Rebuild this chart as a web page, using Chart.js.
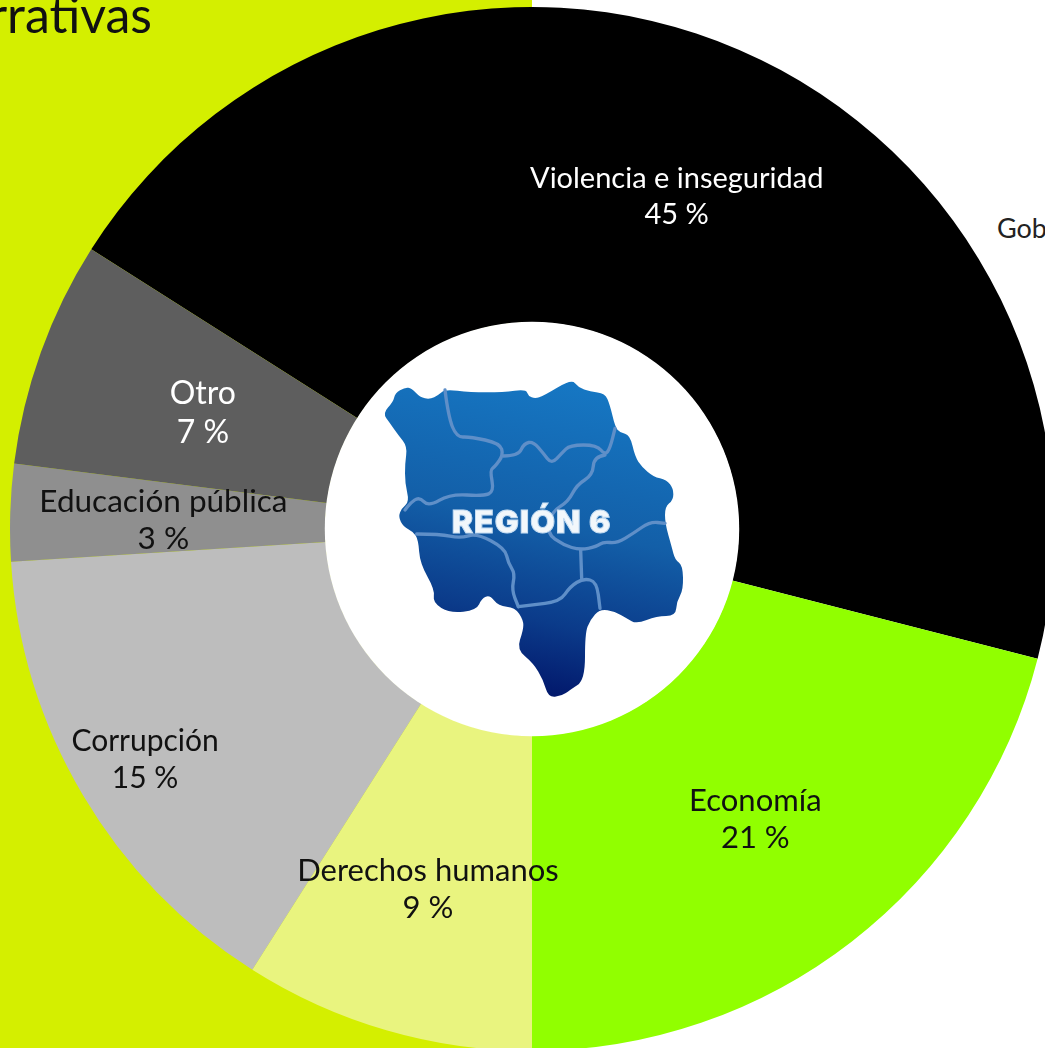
<!DOCTYPE html>
<html lang="es">
<head>
<meta charset="utf-8">
<title>Narrativas</title>
<script src="https://cdn.jsdelivr.net/npm/chart.js@4"></script>
<style>
  html, body { margin: 0; padding: 0; }
  body {
    position: relative;
    width: 1045px;
    height: 1048px;
    overflow: hidden;
    background: linear-gradient(to right, #d4ef00 532px, #fff 532px);
    font-family: Lato, sans-serif;
  }
  #wrap { position: absolute; left: 10px; top: 7px; width: 1044px; height: 1044px; }
  #title { position: absolute; right: 893px; top: -14px; font-size: 50px; line-height: 56px; color: #111; white-space: nowrap; }
  #gob { position: absolute; left: 997px; top: 212px; font-size: 27px; line-height: 32px; color: #222; white-space: nowrap; }
  #map { position: absolute; left: 370px; top: 360px; width: 330px; height: 350px; }
</style>
</head>
<body>
<div id="title">Narrativas</div>
<div id="gob">Gob</div>
<div id="wrap"><canvas id="donut" width="1044" height="1044"></canvas></div>
<svg id="map" viewBox="0 0 990 1050" xmlns="http://www.w3.org/2000/svg">
  <defs>
    <linearGradient id="mapFill" x1="0.62" y1="0" x2="0.42" y2="1">
      <stop offset="0" stop-color="#1677c3"/>
      <stop offset="0.45" stop-color="#135fa8"/>
      <stop offset="0.75" stop-color="#0b3b8a"/>
      <stop offset="1" stop-color="#011468"/>
    </linearGradient>
    <filter id="soft"><feGaussianBlur stdDeviation="1.5"/></filter>
  </defs>
  <path id="mapShape" fill="url(#mapFill)"/>
  <g id="mapLines" fill="none" stroke="#5f8fc8" stroke-width="10" stroke-linecap="round" filter="url(#soft)"></g>
  <text x="485" y="520" text-anchor="middle" font-family="Inter, sans-serif" font-weight="900" font-size="96" letter-spacing="3" fill="#f2f7fb" stroke="#c4dcf2" stroke-width="3" filter="url(#soft)">REGIÓN 6</text>
</svg>
<script>
const categories = ['Violencia e inseguridad', 'Economía', 'Derechos humanos', 'Corrupción', 'Educación pública', 'Otro'];
const shares = [45, 21, 9, 15, 3, 7];
const sliceColors = ['#000000', '#91ff00', '#e9f47f', '#bdbdbd', '#8f8f8f', '#5e5e5e'];
const labelColors = ['#ffffff', '#111111', '#111111', '#111111', '#111111', '#ffffff'];
const labelSizes = [29, 31, 31, 30, 31.5, 32];
const labelLines = [36, 37, 37, 37, 37, 39];
const labelDepth = [0.5, 0.5, 0.527, 0.77, 0.514, 0.454]; // where the text sits between hole and rim

// logo outline
const mapOutline = [[38,160],[70,125],[75,100],[105,82],[125,85],[150,112],[180,118],[205,105],[225,88],[300,97],[400,97],[468,88],[475,108],[495,116],[520,108],[605,57],[625,82],[660,95],[705,100],[720,135],[735,200],[750,218],[780,225],[795,290],[815,320],[850,350],[890,360],[910,385],[910,420],[885,440],[885,490],[905,560],[915,600],[938,615],[940,690],[920,725],[917,768],[860,768],[800,792],[770,775],[735,755],[690,747],[660,780],[645,820],[645,960],[600,990],[575,1008],[535,1012],[520,960],[490,910],[440,868],[460,810],[460,780],[435,742],[385,738],[360,705],[335,715],[320,750],[240,760],[188,728],[195,690],[150,610],[145,540],[130,515],[100,500],[85,470],[95,445],[118,425],[105,370],[105,310],[112,260],[85,225],[60,190]];
const mapBorders = [
  [[225,90],[235,170],[260,232],[300,230],[390,250],[400,285],[375,320],[360,330],[372,395],[340,408],[240,402],[175,440],[148,410],[120,430],[105,450]],
  [[400,288],[445,288],[462,250],[490,245],[520,280],[545,312],[575,280],[600,255],[680,255],[705,285],[720,265],[735,205]],
  [[705,285],[672,290],[668,345],[620,375],[595,425],[545,455],[530,520],[580,555],[630,570],[680,560],[700,545],[740,550],[790,520],[840,485],[885,490]],
  [[632,570],[635,655]],
  [[140,522],[210,522],[270,535],[320,520],[405,565],[415,610],[435,640],[425,690],[445,740]],
  [[445,740],[480,735],[570,725],[600,680],[640,655],[680,665],[690,745]]
];

function smoothPath(pts, closed) {
  // quadratic curves through the midpoints, good enough for the logo
  const mid = (a, b) => [(a[0]+b[0])/2, (a[1]+b[1])/2];
  if (pts.length < 3) return 'M' + pts[0].join(' ') + 'L' + pts[1].join(' ');
  let d;
  if (closed) {
    d = 'M' + mid(pts[pts.length-1], pts[0]).join(' ');
    for (let i=0; i<pts.length; i++) {
      d += 'Q' + pts[i].join(' ') + ' ' + mid(pts[i], pts[(i+1)%pts.length]).join(' ');
    }
    return d + 'Z';
  }
  d = 'M' + pts[0].join(' ');
  for (let i=1; i<pts.length-1; i++) {
    d += 'Q' + pts[i].join(' ') + ' ' + mid(pts[i], pts[i+1]).join(' ');
  }
  return d + 'L' + pts[pts.length-1].join(' ');
}

document.querySelector('#mapShape').setAttribute('d', smoothPath(mapOutline, true));
const linesGroup = document.querySelector('#mapLines');
for (const border of mapBorders) {
  const p = document.createElementNS('http://www.w3.org/2000/svg', 'path');
  p.setAttribute('d', smoothPath(border, false));
  linesGroup.appendChild(p);
}

const holeAndLabels = {
  id: 'holeAndLabels',
  afterDatasetsDraw(chart) {
    const ctx = chart.ctx;
    const arcs = chart.getDatasetMeta(0).data;

    // the hole is white on both halves of the page
    ctx.save();
    ctx.fillStyle = '#ffffff';
    ctx.beginPath();
    ctx.arc(arcs[0].x, arcs[0].y, arcs[0].innerRadius + 0.5, 0, Math.PI*2);
    ctx.fill();
    ctx.restore();

    arcs.forEach((arc, i) => {
      const angle = (arc.startAngle + arc.endAngle) / 2;
      const r = arc.innerRadius + (arc.outerRadius - arc.innerRadius) * labelDepth[i];
      const x = arc.x + Math.cos(angle) * r;
      const y = arc.y + Math.sin(angle) * r + 2.5;
      ctx.save();
      ctx.fillStyle = labelColors[i];
      ctx.font = labelSizes[i] + 'px Lato, sans-serif';
      ctx.textAlign = 'center';
      ctx.textBaseline = 'middle';
      ctx.fillText(categories[i], x, y - labelLines[i]/2);
      ctx.fillText(shares[i] + ' %', x, y + labelLines[i]/2);
      ctx.restore();
    });
  }
};

window.addEventListener('load', () => {
  const ctx = document.querySelector('#donut').getContext('2d');
  new Chart(ctx, {
    type: 'doughnut',
    data: {
      labels: categories,
      datasets: [{
        data: shares,
        backgroundColor: sliceColors,
        borderWidth: 0
      }]
    },
    options: {
      responsive: false,
      animation: false,
      rotation: 302.4,
      cutout: '39.6%',
      layout: { padding: 0 },
      plugins: {
        legend: { display: false },
        tooltip: { enabled: false }
      }
    },
    plugins: [holeAndLabels]
  });
});
</script>
</body>
</html>
